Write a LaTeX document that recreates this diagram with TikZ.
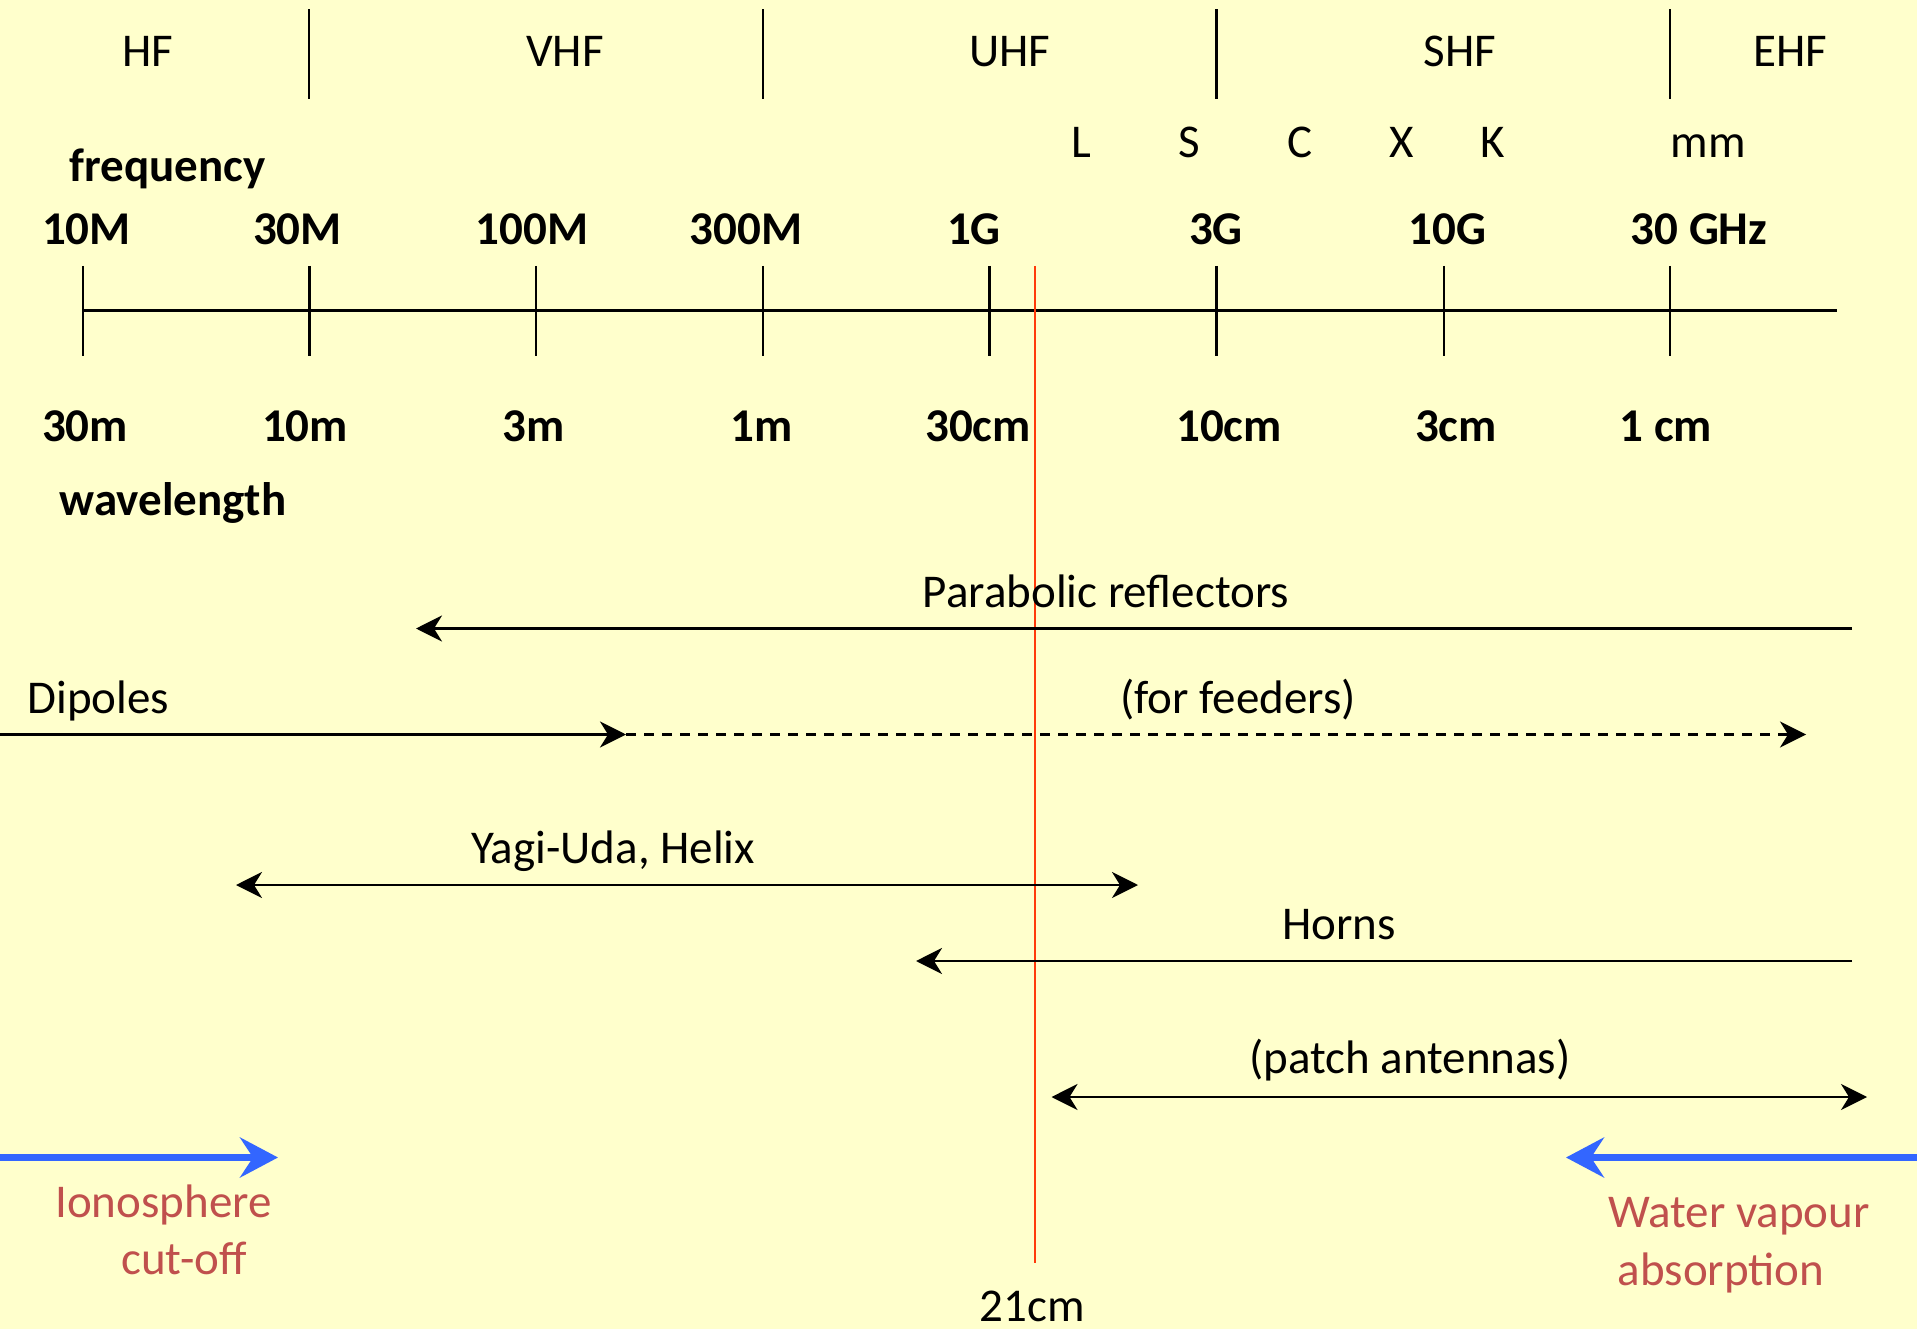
\documentclass[tikz,border=0pt]{standalone}
\usepackage{fontspec}
\setmainfont{Carlito}
\usetikzlibrary{arrows.meta}
\definecolor{bg}{HTML}{FFFFCC}
\definecolor{redtxt}{HTML}{C0504D}
\definecolor{bluearr}{HTML}{3366FF}
\definecolor{redline}{HTML}{FF3A0A}
\tikzset{
  lbl/.style={anchor=base,inner sep=0pt,font=\fontsize{47}{56}\selectfont},
  blbl/.style={anchor=base,inner sep=0pt,font=\fontsize{47}{56}\selectfont\bfseries},
  rlbl/.style={lbl,text=redtxt},
  thin line/.style={line width=2.4pt,black},
  blk arrow/.style={thin line,-{Stealth[length=26pt,width=26pt,inset=8pt]}},
  blk both/.style={thin line,{Stealth[length=26pt,width=26pt,inset=8pt]}-{Stealth[length=26pt,width=26pt,inset=8pt]}},
  blue arrow/.style={line width=7.3pt,bluearr,-{Stealth[length=38pt,width=40pt,inset=13pt]}},
}
\begin{document}
\begin{tikzpicture}[x=1pt,y=-1pt]
\fill[bg] (0,0) rectangle (1917,1329);
\useasboundingbox (0,0) rectangle (1917,1329);

% band dividers
\foreach \x/\n in {309/d1,763/d2,1216.5/d3,1670/d4}{
  \coordinate (\n t) at (\x,9.5);
  \coordinate (\n b) at (\x,99);
  \draw[thin line] (\n t) -- (\n b);
}
% band labels
\node[lbl] (hf) at (148,67) {HF};
\node[lbl] (vhf) at (565,67) {VHF};
\node[lbl] (uhf) at (1010,67) {UHF};
\node[lbl] (shf) at (1460,67) {SHF};
\node[lbl] (ehf) at (1790,67) {EHF};
% sub-bands
\node[lbl] (bL) at (1081,158) {L};
\node[lbl] (bS) at (1189,158) {S};
\node[lbl] (bC) at (1300,158) {C};
\node[lbl] (bX) at (1402,158) {X};
\node[lbl] (bK) at (1493,158) {K};
\node[lbl] (bmm) at (1708,158) {mm};

% frequency
\node[blbl] (freq) at (167.5,182) {frequency};
\node[blbl] (f1) at (86.5,245) {10M};
\node[blbl] (f2) at (297.5,245) {30M};
\node[blbl] (f3) at (532,245) {100M};
\node[blbl] (f4) at (746,245) {300M};
\node[blbl] (f5) at (974,245) {1G};
\node[blbl] (f6) at (1216,245) {3G};
\node[blbl] (f7) at (1447.5,245) {10G};
\node[blbl] (f8) at (1699,245) {30 GHz};

% axis
\coordinate (axL) at (82,310.5);
\coordinate (axR) at (1837,310.5);
\draw[thin line] (axL) -- (axR);
\foreach \x/\n in {83/t1,309.3/t2,536/t3,763/t4,989.5/t5,1216.5/t6,1444/t7,1670/t8}{
  \coordinate (\n a) at (\x,266);
  \coordinate (\n b) at (\x,356);
  \draw[thin line] (\n a) -- (\n b);
}

% wavelength
\node[blbl] (w1) at (85,442) {30m};
\node[blbl] (w2) at (305,442) {10m};
\node[blbl] (w3) at (534,442) {3m};
\node[blbl] (w4) at (762,442) {1m};
\node[blbl] (w5) at (978,442) {30cm};
\node[blbl] (w6) at (1229,442) {10cm};
\node[blbl] (w7) at (1456,442) {3cm};
\node[blbl] (w8) at (1666,442) {1 cm};
\node[blbl] (wl) at (173,515) {wavelength};

% red 21cm line
\coordinate (rtop) at (1035,266);
\coordinate (rbot) at (1035,1263);
\draw[line width=2.8pt,redline] (rtop) -- (rbot);
\node[lbl] (r21) at (1032,1321.5) {21cm};

% Parabolic reflectors
\node[lbl] (para) at (1106,607.5) {Parabolic reflectors};
\coordinate (paraR) at (1852,628.5);
\coordinate (paraL) at (416,628.5);
\draw[blk arrow] (paraR) -- (paraL);

% Dipoles
\node[lbl] (dip) at (98.5,713) {Dipoles};
\node[lbl] (feed) at (1238,713) {(for feeders)};
\coordinate (dipL) at (0,734.5);
\coordinate (dipM) at (626,734.5);
\coordinate (dipR) at (1806,734.5);
\draw[blk arrow] (dipL) -- (dipM);
\draw[blk arrow,dash pattern=on 10pt off 8pt] (dipM) -- (dipR);

% Yagi-Uda
\node[lbl] (yagi) at (613,863) {Yagi-Uda, Helix};
\coordinate (yagiL) at (236,885);
\coordinate (yagiR) at (1138,885);
\draw[blk both] (yagiL) -- (yagiR);

% Horns
\node[lbl] (horn) at (1339,939) {Horns};
\coordinate (hornR) at (1852,961);
\coordinate (hornL) at (916,961);
\draw[blk arrow] (hornR) -- (hornL);

% patch
\node[lbl] (patch) at (1410,1073) {(patch antennas)};
\coordinate (patchL) at (1051.5,1097);
\coordinate (patchR) at (1867,1097);
\draw[blk both] (patchL) -- (patchR);

% blue arrows
\coordinate (ionoS) at (0,1157.5);
\coordinate (ionoE) at (278,1157.5);
\draw[blue arrow] (ionoS) -- (ionoE);
\coordinate (watS) at (1917,1157.5);
\coordinate (watE) at (1566,1157.5);
\draw[blue arrow] (watS) -- (watE);

\node[rlbl] (iono1) at (163.5,1217) {Ionosphere};
\node[rlbl] (iono2) at (184,1274) {cut-off};
\node[rlbl] (wat1) at (1739,1227.5) {Water vapour};
\node[rlbl] (wat2) at (1721,1285) {absorption};
\end{tikzpicture}
\end{document}
